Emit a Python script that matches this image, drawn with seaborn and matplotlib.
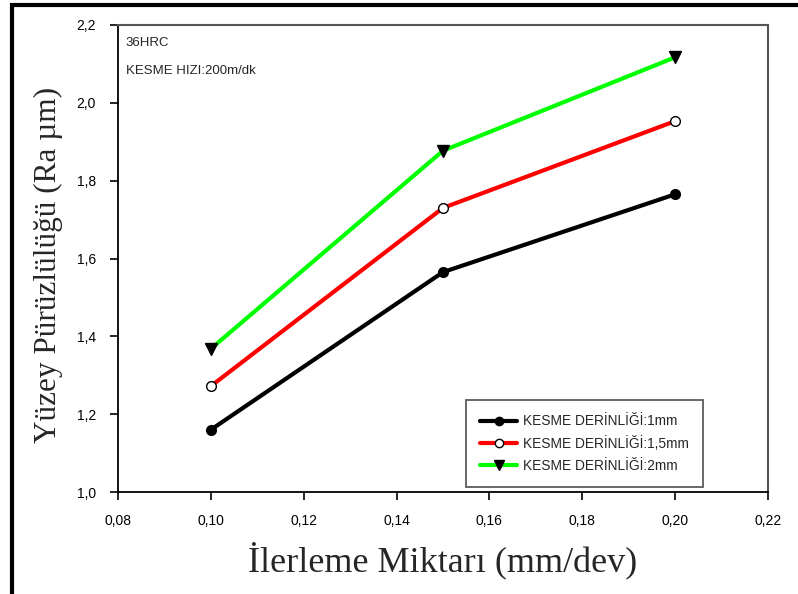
import matplotlib
matplotlib.use("Agg")
import matplotlib.pyplot as plt
import seaborn as sns
import pandas as pd
from matplotlib.patches import Rectangle
from matplotlib.lines import Line2D

feed = [0.10, 0.15, 0.20]
ra_1mm = [1.16, 1.565, 1.765]
ra_15mm = [1.272, 1.73, 1.953]
ra_2mm = [1.368, 1.877, 2.117]
series_labels = ["KESME DERİNLİĞİ:1mm", "KESME DERİNLİĞİ:1,5mm", "KESME DERİNLİĞİ:2mm"]
x_ticks = [0.08, 0.10, 0.12, 0.14, 0.16, 0.18, 0.20, 0.22]
y_ticks = [1.0, 1.2, 1.4, 1.6, 1.8, 2.0, 2.2]

sns.set_style("ticks")
plt.rcParams['font.family'] = ['Liberation Sans', 'DejaVu Sans']

fig = plt.figure(figsize=(7.98, 5.94), dpi=100)
ax = fig.add_axes([118/798, 1-492/594, (768-118)/798, (492-25)/594])

df = pd.DataFrame({
    "feed": feed * 3,
    "ra": ra_1mm + ra_15mm + ra_2mm,
    "series": [series_labels[0]]*3 + [series_labels[1]]*3 + [series_labels[2]]*3,
})
colors = ["#000000", "#ff0000", "#00ff00"]
markers = ["o", "o", "v"]
mfc = ["black", "white", "black"]
ms = [7, 7, 8]
for i, lab in enumerate(series_labels):
    sub = df[df.series == lab]
    sns.lineplot(data=sub, x="feed", y="ra", ax=ax, color=colors[i], lw=3,
                 marker=markers[i], markersize=ms[i], markerfacecolor=mfc[i],
                 markeredgecolor="black", markeredgewidth=1, legend=False)

ax.set_xlim(0.08, 0.22)
ax.set_ylim(1.0, 2.2)
ax.set_xticks(x_ticks)
ax.set_xticklabels([f"{v:.2f}".replace(".", ",") for v in x_ticks], fontsize=10)
ax.set_yticks(y_ticks)
ax.set_yticklabels([f"{v:.1f}".replace(".", ",") for v in y_ticks], fontsize=10)
ax.tick_params(direction="out", length=6, width=1.2, pad=10, colors="black")
for s in ["left", "bottom"]:
    ax.spines[s].set_color("black")
    ax.spines[s].set_linewidth(1.3)
for s in ["top", "right"]:
    ax.spines[s].set_visible(True)
    ax.spines[s].set_color("#555555")
    ax.spines[s].set_linewidth(1.5)

ax.set_xlabel("İlerleme Miktarı (mm/dev)", family=["Liberation Serif", "DejaVu Serif"], fontsize=26, labelpad=10)
ax.set_ylabel("Yüzey Pürüzlülüğü (Ra µm)", family=["Liberation Serif", "DejaVu Serif"], fontsize=22.5, labelpad=12)
ax.yaxis.set_label_coords(-0.084, 0.486)

ax.text(0.012, 0.975, "36HRC", transform=ax.transAxes, fontsize=9.5, va="top")
ax.text(0.012, 0.915, "KESME HIZI:200m/dk", transform=ax.transAxes, fontsize=9.5, va="top")

handles = [Line2D([0], [0], color=colors[i], lw=3, marker=markers[i], markersize=ms[i]-1,
                  markerfacecolor=mfc[i], markeredgecolor="black") for i in range(3)]
leg = ax.legend(handles, series_labels, loc="lower right", bbox_to_anchor=(0.9, 0.0107),
                fontsize=9.9, frameon=True, fancybox=False, handlelength=2.7,
                borderpad=1.05, labelspacing=0.55, handletextpad=0.4, borderaxespad=0)
leg.get_frame().set_edgecolor("#333333")
leg.get_frame().set_linewidth(1.3)

fig.patches.append(Rectangle((12/798, -0.05), 1.1, 1-5/594+0.05, transform=fig.transFigure,
                             fill=False, edgecolor="black", lw=3, clip_on=False))

fig.savefig("out.png", dpi=100)
